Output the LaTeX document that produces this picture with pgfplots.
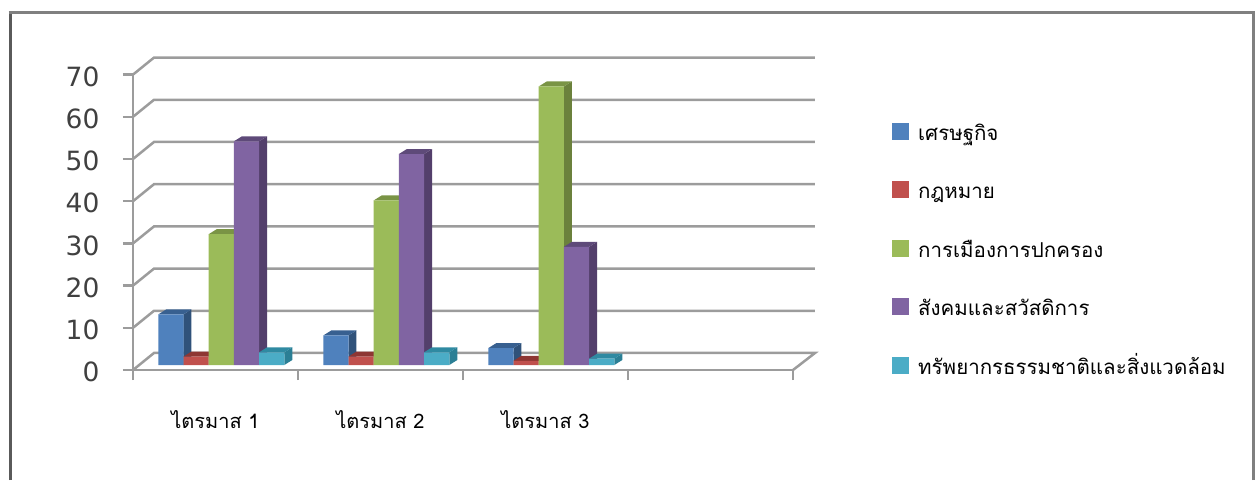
\documentclass[border=0pt]{standalone}
\usepackage{fontspec}
\setmainfont{DejaVu Sans}
\newfontfamily\thaifont[Script=Thai]{Loma}
\usepackage{pgfplots}
\usepackage{pgfplotstable}
\pgfplotsset{compat=1.18}

\definecolor{gridc}{HTML}{9C9C9C}
\definecolor{framec}{HTML}{808080}
\definecolor{c1}{HTML}{4F81BD}
\definecolor{c1t}{HTML}{386090}
\definecolor{c1s}{HTML}{30527A}
\definecolor{c2}{HTML}{C0504D}
\definecolor{c2t}{HTML}{8E3633}
\definecolor{c2s}{HTML}{7A2E2C}
\definecolor{c3}{HTML}{9BBB59}
\definecolor{c3t}{HTML}{7A9445}
\definecolor{c3s}{HTML}{6B813C}
\definecolor{c4}{HTML}{8064A2}
\definecolor{c4t}{HTML}{5E4A79}
\definecolor{c4s}{HTML}{533F6B}
\definecolor{c5}{HTML}{4BACC6}
\definecolor{c5t}{HTML}{2F8AA2}
\definecolor{c5s}{HTML}{2B7F95}

% values per quarter
\pgfplotstableread{
x   econ law pol soc env
0.5 12   2   31  53  3
1.5 7    2   39  50  3
2.5 4    1   66  28  1.5
}\datatable

% side and top faces of one series; 165pt is one category, 4.22pt is one y unit
\newcommand{\faces}[4]{%
  \pgfplotsforeachungrouped \i in {0,1,2}{%
    \pgfplotstablegetelem{\i}{#1}\of\datatable
    \let\val\pgfplotsretval
    \pgfmathsetmacro\xa{\i+#2/165}
    \pgfmathsetmacro\xb{\xa+25.2/165}
    \pgfmathsetmacro\xc{\xa+8/165}
    \pgfmathsetmacro\xd{\xb+8/165}
    \pgfmathsetmacro\yt{\val+5/4.22}
    \pgfmathsetmacro\yd{5/4.22}
    \addplot[fill=#4, draw=none, yshift=5pt, forget plot] coordinates
      {(\xb,0) (\xd,\yd) (\xd,\yt) (\xb,\val)};
    \addplot[fill=#3, draw=none, yshift=5pt, forget plot] coordinates
      {(\xa,\val) (\xc,\yt) (\xd,\yt) (\xb,\val)};
  }%
}

\pgfplotsset{
  front/.style={
    ybar, bar width=25.2pt, fill=#1, draw=none, yshift=5pt,
    legend image code/.code={
      \fill[fill=#1] (0pt,-8.5pt) rectangle (17pt,8.5pt);
      \path (24pt,0pt);
    },
  },
}

\begin{document}
\begin{tikzpicture}
  \path[use as bounding box] (0,0) rectangle (1259pt,480pt);
  % outer frame
  \draw[framec!70!black, line width=3pt] (10pt,0) -- (10pt,467pt);
  \draw[framec, line width=3pt] (8.5pt,467pt) -- (1255pt,467pt);
  \draw[framec, line width=3pt] (1253.5pt,0) -- (1253.5pt,467pt);

  \begin{axis}[
      at={(133pt,110pt)}, anchor=south west,
      scale only axis, width=660pt, height=295.4pt,
      xmin=0, xmax=4, ymin=0, ymax=70,
      clip=false,
      axis lines=left,
      axis line style={-, draw=gridc, line width=2.5pt},
      tick style={draw=gridc, line width=2.5pt},
      tick align=outside,
      major tick length=10pt,
      xtick={0,1,2,3,4},
      xticklabels={},
      ytick={0,10,...,70},
      extra x ticks={0.5,1.5,2.5},
      extra x tick labels={{ไตรมาส 1},{ไตรมาส 2},{ไตรมาส 3}},
      extra x tick style={
        major tick length=0pt,
        tick style={draw=none},
        xticklabel style={font=\thaifont\fontsize{20}{24}\selectfont, yshift=-37pt, text=black},
      },
      /pgf/number format/assume math mode=true,
      yticklabel style={font=\fontsize{26.5}{30}\selectfont, text=black!75, xshift=-20pt, yshift=-2pt},
      legend style={
        at={(1.1455,0.846)}, anchor=north west, draw=none, fill=none,
        font=\thaifont\fontsize{20.5}{24}\selectfont,
        nodes={text height=16pt, text depth=8pt},
        row sep=30.5pt,
      },
      legend cell align=left,
    ]
    % floor and back wall gridlines
    \addplot[gridc, line width=2.5pt, forget plot] coordinates {(0,0) (0.1273,4.03) (4.1333,4.03) (4,0)};
    \addplot[gridc, line width=2.5pt, forget plot] coordinates {(0,10) (0.1273,14.03) (4.1333,14.03)};
    \addplot[gridc, line width=2.5pt, forget plot] coordinates {(0,20) (0.1273,24.03) (4.1333,24.03)};
    \addplot[gridc, line width=2.5pt, forget plot] coordinates {(0,30) (0.1273,34.03) (4.1333,34.03)};
    \addplot[gridc, line width=2.5pt, forget plot] coordinates {(0,40) (0.1273,44.03) (4.1333,44.03)};
    \addplot[gridc, line width=2.5pt, forget plot] coordinates {(0,50) (0.1273,54.03) (4.1333,54.03)};
    \addplot[gridc, line width=2.5pt, forget plot] coordinates {(0,60) (0.1273,64.03) (4.1333,64.03)};
    \addplot[gridc, line width=2.5pt, forget plot] coordinates {(0,70) (0.1273,74.03) (4.1333,74.03)};

    \faces{econ}{25.3}{c1t}{c1s}
    \addplot[front=c1, bar shift=-44.6pt] table[x=x, y=econ] {\datatable};
    \addlegendentry{เศรษฐกิจ}
    \faces{law}{50.5}{c2t}{c2s}
    \addplot[front=c2, bar shift=-19.4pt] table[x=x, y=law] {\datatable};
    \addlegendentry{กฎหมาย}
    \faces{pol}{75.7}{c3t}{c3s}
    \addplot[front=c3, bar shift=5.8pt] table[x=x, y=pol] {\datatable};
    \addlegendentry{การเมืองการปกครอง}
    \faces{soc}{100.9}{c4t}{c4s}
    \addplot[front=c4, bar shift=31pt] table[x=x, y=soc] {\datatable};
    \addlegendentry{สังคมและสวัสดิการ}
    \faces{env}{126.1}{c5t}{c5s}
    \addplot[front=c5, bar shift=56.2pt] table[x=x, y=env] {\datatable};
    \addlegendentry{ทรัพยากรธรรมชาติและสิ่งแวดล้อม}
  \end{axis}
\end{tikzpicture}
\end{document}
